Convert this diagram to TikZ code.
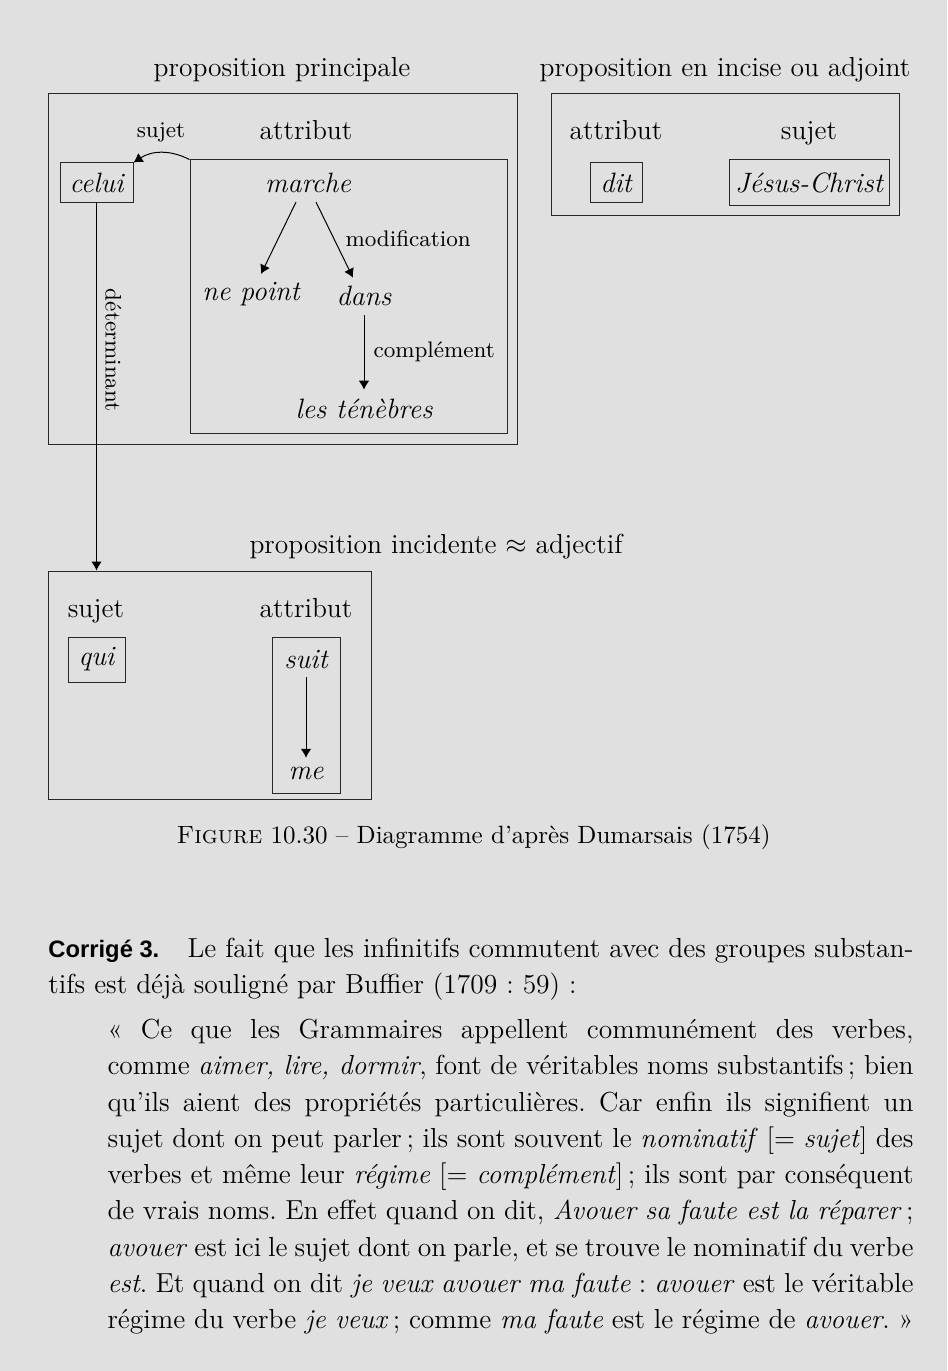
\documentclass[tikz,border=0pt]{standalone}
\usepackage{fontspec}
\newfontfamily\sansbold{Liberation Sans}
\usetikzlibrary{arrows.meta,fit,calc}
\definecolor{bg}{RGB}{224,224,224}
\definecolor{ln}{RGB}{40,40,40}
\newcommand\rmn{\fontsize{11}{14.5}\selectfont}
\newcommand\itw{\fontsize{11.2}{13}\selectfont\itshape}
\newcommand\lblfont{\fontsize{9}{11}\selectfont}
\begin{document}
\frenchspacing
\begin{tikzpicture}[x=0.4pt,y=-0.4pt,
  every node/.style={font=\rmn},
  frame/.style={draw=ln, line width=0.4pt, inner sep=0pt},
  word/.style={font=\itw},
  wbox/.style={draw=ln, line width=0.4pt, inner sep=0pt, font=\itw},
  lbl/.style={font=\lblfont},
  arr/.style={line width=0.4pt, -{Latex[length=3.6pt,width=4.2pt]}},
  tl/.style={anchor=base west, inner sep=0pt, font=\rmn}]
\fill[bg] (0,0) rectangle (947,1371);
\useasboundingbox (0,0) rectangle (947,1371);

% titles
\node[anchor=base] (tP) at (282,77) {proposition principale};
\node[anchor=base] (tI) at (725,77) {proposition en incise ou adjoint};
\node[anchor=base] (tC) at (436,553) {proposition incidente $\approx$ adjectif};

% frames
\node[frame, fit={(48,94) (517,444)}] (P) {};
\node[frame, fit={(190,160) (507,433)}] (A) {};
\node[frame, fit={(551,94) (899,216)}] (Inc) {};
\node[frame, fit={(48,571) (371,799)}] (C) {};
\node[frame, fit={(272,637) (340,793)}] (SM) {};

% proposition principale
\node[anchor=base] (attrP) at (306,140) {attribut};
\node[anchor=base, lbl] (sujP) at (161,138) {sujet};
\node[wbox, minimum width=29.2pt, minimum height=16pt] (celui) at (96.5,183) {celui};
\node[word, anchor=base] (marche) at (308,193) {marche};
\node[word, anchor=base] (nepoint) at (251,301) {ne point};
\node[word, anchor=base] (dans) at (364,306) {dans};
\node[word, anchor=base] (ten) at (364,418) {les ténèbres};
\node[lbl, anchor=base west, inner sep=0pt] (modif) at (345,247) {modification};
\node[lbl, anchor=base west, inner sep=0pt] (compl) at (373,358) {complément};

\draw[arr] ($(marche.south)+(-12,0)$) -- ($(nepoint.north)+(10,0)$);
\draw[arr] ($(marche.south)+(8,0)$) -- ($(dans.north)+(-11,0)$);
\draw[arr] (dans.south) -- (ten.north);
\draw[arr] (A.north west) to[bend right=30] (celui.north east);
\draw[arr] (celui.south) -- node[pos=0.4, rotate=-90, anchor=south, lbl] (det) {déterminant} (celui.south |- C.north);

% incise
\node[anchor=base] (attrI) at (616,140) {attribut};
\node[anchor=base] (sujI) at (809,140) {sujet};
\node[wbox, minimum width=20.8pt, minimum height=16pt] (dit) at (616,183) {dit};
\node[wbox, minimum width=64pt, minimum height=18.4pt] (jc) at (809,183) {Jésus-Christ};

% incidente
\node[anchor=base] (sujC) at (96,617) {sujet};
\node[anchor=base] (attrC) at (306,617) {attribut};
\node[wbox, minimum width=22.8pt, minimum height=18pt] (qui) at (96.5,659.5) {qui};
\node[word, anchor=base] (suit) at (306,668) {suit};
\node[word, anchor=base] (me) at (306,779) {me};
\draw[arr] (suit.south) -- (me.north);

% caption
\node[anchor=base, font=\fontsize{10}{12}\selectfont] (cap) at (473.5,843) {\textsc{Figure} 10.30 – Diagramme d’après Dumarsais (1754)};

% text
\node[tl, font={\sansbold\fontsize{9.5}{12}\selectfont\bfseries}] (cor) at (48,957) {Corrigé 3.};
\node[tl] (p1) at (187,957) {\hbox to 290.4pt{Le fait que les infinitifs commutent avec des groupes substan-}};
\node[tl] (p2) at (48,993) {tifs est déjà souligné par Buffier (1709 : 59) :};

\node[tl] (q1) at (107,1038) {\hbox to 322.4pt{« Ce que les Grammaires appellent communément des verbes,}};
\node[tl] (q2) at (107,1074) {\hbox to 322.4pt{comme \textit{aimer, lire, dormir}, font de véritables noms substantifs\,; bien}};
\node[tl] (q3) at (107,1111) {\hbox to 322.4pt{qu’ils aient des propriétés particulières. Car enfin ils signifient un}};
\node[tl] (q4) at (107,1147) {\hbox to 322.4pt{sujet dont on peut parler\,; ils sont souvent le \textit{nominatif} [= \textit{sujet}] des}};
\node[tl] (q5) at (107,1183) {\hbox to 322.4pt{verbes et même leur \textit{régime} [= \textit{complément}]\,; ils sont par conséquent}};
\node[tl] (q6) at (107,1219) {\hbox to 322.4pt{de vrais noms. En effet quand on dit, \textit{Avouer sa faute est la réparer}\,;}};
\node[tl] (q7) at (107,1256) {\hbox to 322.4pt{\textit{avouer} est ici le sujet dont on parle, et se trouve le nominatif du verbe}};
\node[tl] (q8) at (107,1292) {\hbox to 322.4pt{\textit{est}. Et quand on dit \textit{je veux avouer ma faute} : \textit{avouer} est le véritable}};
\node[tl] (q9) at (107,1328) {\hbox to 322.4pt{régime du verbe \textit{je veux}\,; comme \textit{ma faute} est le régime de \textit{avouer}. »}};
\end{tikzpicture}
\end{document}
